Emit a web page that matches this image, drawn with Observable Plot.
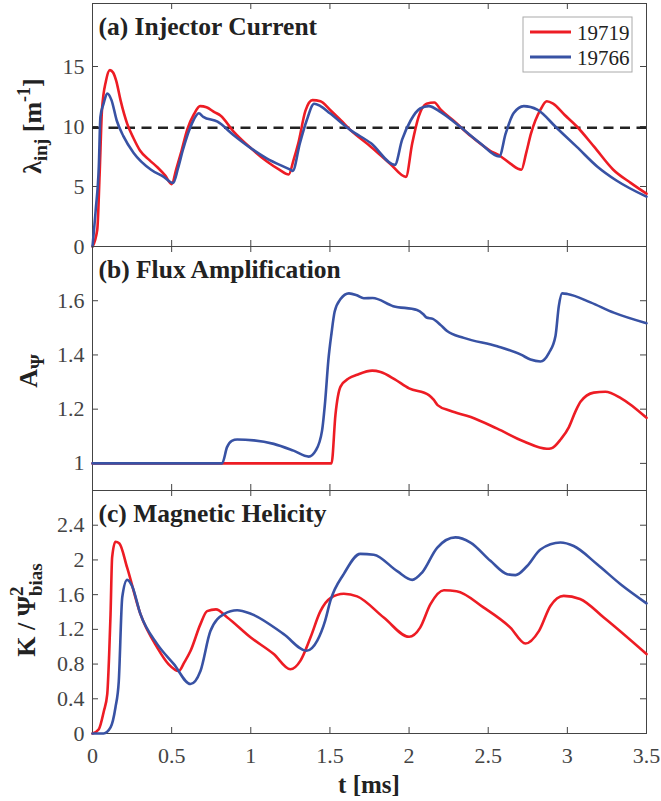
<!DOCTYPE html>
<html><head><meta charset="utf-8">
<script src="https://cdn.jsdelivr.net/npm/d3@7"></script>
<script src="https://cdn.jsdelivr.net/npm/@observablehq/plot@0.6"></script>
<style>
body{margin:0;background:#fff}
#chart{position:relative;width:661px;height:801px;font-family:'Liberation Serif',serif}
#chart svg{position:absolute;left:0;overflow:visible}
</style>
</head><body><div id="chart"></div>
<script>
// ---- data ----
const xTicks = [0, 0.5, 1, 1.5, 2, 2.5, 3, 3.5];
const seriesNames = ["19719", "19766"];
const seriesColors = ["#ED1C24", "#3852A4"];

// (a) Injector current
const aTicks = [0, 5, 10, 15];
const aThreshold = 9.9;
const tA_19719 = [0,0.03,0.045,0.06,0.085,0.11,0.13,0.15,0.177,0.22,0.26,0.30,0.36,0.41,0.46,0.50,0.53,0.563,0.60,0.64,0.68,0.72,0.77,0.81,0.89,1.0,1.10,1.18,1.24,1.27,1.30,1.345,1.39,1.44,1.50,1.57,1.63,1.76,1.88,1.98,2.02,2.06,2.11,2.16,2.20,2.28,2.39,2.51,2.58,2.64,2.71,2.74,2.77,2.83,2.87,2.91,2.98,3.06,3.17,3.29,3.40,3.50];
const vA_19719 = [0,1.4,6,11.4,13.8,14.7,14.5,13.8,12.2,10.2,9.0,8.0,7.2,6.6,5.9,5.2,6.5,8.0,9.8,11.0,11.7,11.6,11.2,10.9,9.6,8.2,7.1,6.4,6.0,7.2,8.6,11.3,12.2,12.1,11.4,10.5,9.7,8.3,6.9,5.8,8.6,10.8,11.9,12.0,11.4,10.5,9.2,8.0,7.5,6.9,6.4,7.8,9.4,11.4,12.1,11.9,11.0,10.0,8.3,6.4,5.3,4.4];
const tA_19766 = [0,0.02,0.04,0.05,0.07,0.093,0.12,0.153,0.195,0.26,0.37,0.45,0.51,0.54,0.57,0.63,0.672,0.70,0.79,0.89,1.0,1.10,1.25,1.265,1.31,1.353,1.40,1.44,1.50,1.63,1.76,1.91,1.956,2.01,2.07,2.125,2.20,2.32,2.45,2.57,2.61,2.66,2.725,2.81,2.935,3.06,3.19,3.31,3.50];
const vA_19766 = [0,3,6.7,10.8,11.9,12.75,12.2,10.5,9.2,7.8,6.4,5.8,5.3,6.5,8.0,10.3,11.1,10.8,10.4,9.3,8.2,7.35,6.4,6.3,8.6,10.5,11.9,11.7,11.1,9.7,8.6,6.8,8.9,10.5,11.5,11.7,11.2,10.0,8.6,7.5,9.4,11.1,11.7,11.4,9.85,8.3,6.65,5.5,4.15];

// (b) Flux amplification
const bTicks = [1, 1.2, 1.4, 1.6];
const tB_19719 = [0,1.51,1.535,1.567,1.62,1.672,1.767,1.82,1.91,2.0,2.125,2.155,2.18,2.26,2.39,2.557,2.726,2.87,2.9,2.96,3.01,3.05,3.083,3.167,3.24,3.34,3.5];
const vB_19719 = [1,1,1.18,1.283,1.314,1.327,1.342,1.337,1.31,1.277,1.252,1.235,1.215,1.194,1.171,1.128,1.081,1.054,1.056,1.09,1.134,1.19,1.227,1.261,1.264,1.24,1.168];
const tB_19766 = [0,0.819,0.85,0.88,0.914,1.019,1.145,1.27,1.366,1.41,1.45,1.47,1.49,1.51,1.53,1.567,1.62,1.67,1.714,1.77,1.9,2.05,2.09,2.11,2.15,2.2,2.24,2.346,2.557,2.707,2.767,2.83,2.883,2.925,2.946,2.967,3.0,3.146,3.293,3.5];
const vB_19766 = [1,1,1.06,1.083,1.088,1.085,1.072,1.047,1.025,1.047,1.12,1.23,1.38,1.48,1.56,1.606,1.627,1.62,1.609,1.61,1.58,1.566,1.55,1.538,1.533,1.51,1.488,1.463,1.432,1.401,1.383,1.376,1.407,1.47,1.58,1.627,1.625,1.594,1.556,1.517];

// (c) Magnetic helicity
const cTicks = [0, 0.4, 0.8, 1.2, 1.6, 2, 2.4];
const tC_19719 = [0,0.04,0.072,0.093,0.105,0.114,0.124,0.145,0.17,0.219,0.303,0.409,0.48,0.545,0.58,0.619,0.682,0.724,0.78,0.85,1.0,1.145,1.25,1.314,1.377,1.44,1.503,1.588,1.672,1.84,2.0,2.07,2.135,2.22,2.3,2.472,2.64,2.735,2.82,2.893,2.977,3.08,3.23,3.5];
const vC_19719 = [0,0.05,0.26,0.45,0.9,1.375,2.03,2.21,2.19,1.91,1.375,0.99,0.8,0.72,0.82,0.95,1.26,1.41,1.43,1.34,1.106,0.915,0.74,0.84,1.106,1.41,1.56,1.61,1.58,1.336,1.114,1.22,1.49,1.65,1.64,1.45,1.22,1.037,1.18,1.47,1.586,1.55,1.336,0.915];
const tC_19766 = [0,0.07,0.114,0.145,0.166,0.188,0.219,0.25,0.303,0.409,0.514,0.619,0.682,0.745,0.83,0.914,1.0,1.208,1.352,1.42,1.47,1.503,1.588,1.692,1.777,1.925,2.02,2.082,2.177,2.293,2.388,2.514,2.62,2.672,2.746,2.83,2.956,3.04,3.188,3.336,3.5];
const vC_19766 = [0,0,0.07,0.3,0.6,1.57,1.77,1.7,1.375,1.03,0.8,0.57,0.72,1.18,1.375,1.42,1.38,1.145,0.953,1.07,1.3,1.53,1.84,2.07,2.06,1.87,1.77,1.855,2.14,2.26,2.2,1.99,1.836,1.825,1.93,2.12,2.2,2.16,1.95,1.72,1.5];

// ---- drawing ----
const FONT = "'Liberation Serif', 'Times New Roman', serif";
const AX = "#444";
const W = 661, ML = 92, MR = 15, INNER_W = W - ML - MR;
const toRows = (t, v) => t.map((x, i) => ({t: x, v: v[i]}));

function panel({top, height, mt, mb, domain, ticks, title, series, showX}) {
  const innerH = height - mt - mb;
  const marks = [
    Plot.frame({stroke: AX, strokeWidth: 1}),
    Plot.axisY(ticks, {tickSize: 0, tickPadding: 8, tickFormat: d => String(d), fontSize: 22, fill: AX, label: null}),
    Plot.tickX(xTicks, {x: d => d, insetTop: innerH - 6, stroke: AX}),
    Plot.tickX(xTicks, {x: d => d, insetBottom: innerH - 6, stroke: AX}),
    Plot.tickY(ticks, {y: d => d, insetLeft: INNER_W - 6, stroke: AX}),
    Plot.tickY(ticks, {y: d => d, insetRight: INNER_W - 6, stroke: AX}),
    Plot.text([title], {frameAnchor: "top-left", dx: 6, dy: 13, lineAnchor: "top", textAnchor: "start",
      fontWeight: "bold", fontSize: 25.5, fill: "#222"})
  ];
  if (showX) marks.push(Plot.axisX(xTicks, {tickSize: 0, tickPadding: 14, tickFormat: d => String(d), fontSize: 22, fill: AX, label: null}));
  for (const s of series) marks.push(s);
  const svg = Plot.plot({
    width: W, height, marginLeft: ML, marginRight: MR, marginTop: mt, marginBottom: mb,
    style: {fontFamily: FONT, fontSize: "22px", color: AX, background: "transparent"},
    x: {domain: [0, 3.5], label: null, axis: showX ? undefined : null},
    y: {domain, label: null},
    marks
  });
  svg.style.top = top + "px";
  document.getElementById("chart").appendChild(svg);
  return svg;
}

const lineOpts = (color) => ({x: "t", y: "v", stroke: color, strokeWidth: 2.6, curve: "monotone-x"});

// Panel (a)
const svgA = panel({
  top: 0, height: 246, mt: 3, mb: 0, domain: [0, 20.25], ticks: aTicks,
  title: "(a) Injector Current", showX: false,
  series: [
    Plot.ruleY([aThreshold], {stroke: "#222", strokeWidth: 2.5, strokeDasharray: "10,6.5"}),
    Plot.line(toRows(tA_19719, vA_19719), lineOpts(seriesColors[0])),
    Plot.line(toRows(tA_19766, vA_19766), lineOpts(seriesColors[1]))
  ]
});
// Panel (b)
const svgB = panel({
  top: 246, height: 244, mt: 0, mb: 0, domain: [0.9, 1.8], ticks: bTicks,
  title: "(b) Flux Amplification", showX: false,
  series: [
    Plot.line(toRows(tB_19719, vB_19719), lineOpts(seriesColors[0])),
    Plot.line(toRows(tB_19766, vB_19766), lineOpts(seriesColors[1]))
  ]
});
// Panel (c)
const svgC = panel({
  top: 490, height: 311, mt: 0, mb: 68, domain: [0, 2.8], ticks: cTicks,
  title: "(c) Magnetic Helicity", showX: true,
  series: [
    Plot.line(toRows(tC_19719, vC_19719), lineOpts(seriesColors[0])),
    Plot.line(toRows(tC_19766, vC_19766), lineOpts(seriesColors[1]))
  ]
});

// y-axis labels with sub/superscripts
function ylabel(svg, x, y, parts) {
  const t = d3.select(svg).append("text")
    .attr("transform", `translate(${x},${y}) rotate(-90)`)
    .attr("text-anchor", "middle")
    .attr("font-family", FONT).attr("font-weight", "bold").attr("font-size", 26).attr("fill", "#222");
  for (const p of parts) {
    const s = t.append("tspan").text(p.text);
    if (p.size) s.attr("font-size", p.size);
    if (p.dy) s.attr("dy", p.dy);
    if (p.dx) s.attr("dx", p.dx);
  }
}
ylabel(svgA, 41, 126, [
  {text: "λ"}, {text: "inj", size: 19, dy: 6}, {text: " [m", dy: -6}, {text: "-1", size: 18, dy: -11}, {text: "]", dy: 11}
]);
ylabel(svgB, 37, 125, [
  {text: "A"}, {text: "Ψ", size: 19, dy: 7}
]);
ylabel(svgC, 35, 120, [
  {text: "K / Ψ"}, {text: "2", size: 19, dy: -12}, {text: "bias", size: 19, dx: -9.5, dy: 19}
]);

// x label
d3.select(svgC).append("text").attr("x", 369).attr("y", 303).attr("text-anchor", "middle")
  .attr("font-family", FONT).attr("font-weight", "bold").attr("font-size", 25).attr("fill", "#222")
  .text("t [ms]");

// legend in panel (a)
const lg = d3.select(svgA).append("g");
lg.append("rect").attr("x", 523).attr("y", 17).attr("width", 109).attr("height", 55)
  .attr("fill", "#fff").attr("stroke", "#aaa").attr("stroke-width", 1);
seriesNames.forEach((name, i) => {
  const yy = 32 + i * 25;
  lg.append("line").attr("x1", 530).attr("x2", 571).attr("y1", yy).attr("y2", yy)
    .attr("stroke", seriesColors[i]).attr("stroke-width", 3);
  lg.append("text").attr("x", 577).attr("y", yy + 7.5).attr("text-anchor", "start")
    .attr("font-family", FONT).attr("font-size", 21).attr("fill", "#222").text(name);
});
</script></body></html>
